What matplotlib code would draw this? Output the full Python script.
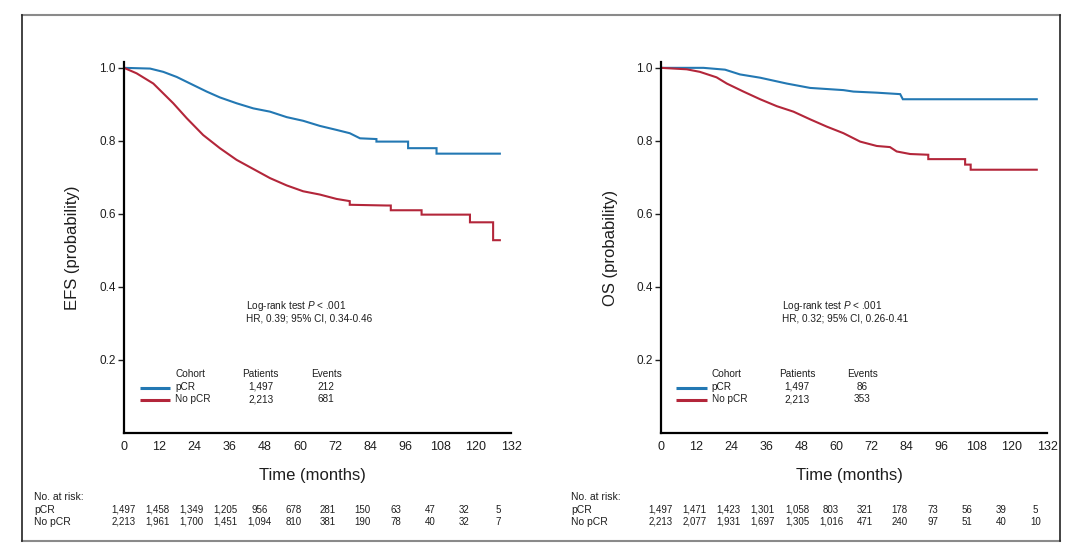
import matplotlib

matplotlib.use("Agg")
import matplotlib.pyplot as plt
from matplotlib.lines import Line2D

plt.rcParams["font.family"] = ["Liberation Sans", "DejaVu Sans"]
plt.rcParams["mathtext.fontset"] = "custom"
plt.rcParams["mathtext.rm"] = "Liberation Sans"
plt.rcParams["mathtext.it"] = "Liberation Sans:italic"

# ---------------------------------------------------------------------------
# Data (months, survival probability)
# ---------------------------------------------------------------------------
EFS_PCR_T = [0, 8.9, 13.4, 18, 23.6, 28.2, 32.7, 38.4, 44.1, 49.8, 55.5, 61.1, 66.8,
             72.5, 77, 80.5, 86.1, 86.1, 96.9, 96.9, 106.6, 106.6, 128.2]
EFS_PCR_S = [1.0, 0.998, 0.989, 0.975, 0.953, 0.935, 0.919, 0.903, 0.889, 0.88, 0.865,
             0.855, 0.841, 0.83, 0.821, 0.807, 0.805, 0.798, 0.798, 0.78, 0.78, 0.765, 0.765]

EFS_NOPCR_T = [0, 4.3, 10, 13.4, 16.8, 21.4, 27, 32.7, 38.4, 44.1, 49.8, 55.5, 61.1,
               66.8, 72.5, 77, 77, 89.5, 91, 91, 101.5, 101.5, 118, 118, 125.9, 125.9, 128.2]
EFS_NOPCR_S = [1.0, 0.985, 0.957, 0.93, 0.903, 0.862, 0.816, 0.78, 0.748, 0.723, 0.698,
               0.678, 0.662, 0.653, 0.641, 0.635, 0.625, 0.623, 0.623, 0.61, 0.61, 0.598,
               0.598, 0.577, 0.577, 0.528, 0.528]

OS_PCR_T = [0, 14.5, 21.9, 27, 33.9, 43, 51, 62.4, 65.8, 73.8, 81.8, 82.7, 128.5]
OS_PCR_S = [1.0, 1.0, 0.995, 0.982, 0.973, 0.957, 0.945, 0.939, 0.935, 0.932, 0.928,
            0.914, 0.914]

OS_NOPCR_T = [0, 8.8, 13.3, 19, 22.5, 28.2, 33.9, 39.6, 45.3, 51, 56.7, 62.4, 68.1,
              73.8, 78.3, 80.6, 85.2, 91.4, 91.4, 104, 104, 105.9, 105.9, 128.5]
OS_NOPCR_S = [1.0, 0.996, 0.989, 0.974, 0.957, 0.935, 0.914, 0.895, 0.88, 0.859, 0.839,
              0.821, 0.798, 0.786, 0.783, 0.771, 0.764, 0.762, 0.75, 0.75, 0.735, 0.735,
              0.721, 0.721]

TIME_TICKS = list(range(0, 133, 12))
PROB_TICKS = [0.2, 0.4, 0.6, 0.8, 1.0]

COHORTS = ["pCR", "No pCR"]
PATIENTS = ["1,497", "2,213"]
EFS_EVENTS = ["212", "681"]
OS_EVENTS = ["86", "353"]

EFS_RISK_PCR = ["1,497", "1,458", "1,349", "1,205", "956", "678", "281", "150", "63", "47", "32", "5"]
EFS_RISK_NOPCR = ["2,213", "1,961", "1,700", "1,451", "1,094", "810", "381", "190", "78", "40", "32", "7"]
OS_RISK_PCR = ["1,497", "1,471", "1,423", "1,301", "1,058", "803", "321", "178", "73", "56", "39", "5"]
OS_RISK_NOPCR = ["2,213", "2,077", "1,931", "1,697", "1,305", "1,016", "471", "240", "97", "51", "40", "10"]

BLUE = "#2378b3"
RED = "#b3263a"
INK = "#1e1e1e"
W, H = 1080, 558


def _panel(fig, left_px, width_px, ylabel, curves, events, hr_text, risk_rows):
    ax = fig.add_axes([left_px / W, (H - 433) / H, width_px / W, 371 / H])
    (t1, s1), (t2, s2) = curves
    ax.plot(t1, s1, color=BLUE, lw=1.5, solid_joinstyle="miter")
    ax.plot(t2, s2, color=RED, lw=1.5, solid_joinstyle="miter")

    ax.set_xlim(0, 132)
    ax.set_ylim(0, 1.016)
    ax.set_xticks(TIME_TICKS)
    ax.set_yticks(PROB_TICKS)
    ax.set_yticklabels([f"{v:.1f}" for v in PROB_TICKS])
    ax.tick_params(axis="x", length=0, pad=6, labelsize=9, colors=INK)
    ax.tick_params(axis="y", length=4, width=1, pad=2, labelsize=8.5, colors=INK)
    for side in ("top", "right"):
        ax.spines[side].set_visible(False)
    for side in ("left", "bottom"):
        ax.spines[side].set_linewidth(1.6)
        ax.spines[side].set_color("black")

    ax.set_ylabel(ylabel, fontsize=12, color=INK, va="center")
    ax.yaxis.set_label_coords(-0.132, 0.5)
    ax.set_xlabel("Time (months)", fontsize=12, color=INK, va="center")
    ax.xaxis.set_label_coords(0.487, -0.115)

    # log-rank annotation
    ax.text(41.5, 0.349, r"Log-rank test $\mathit{P}$ < .001", fontsize=7.2,
            color=INK, va="center")
    ax.text(41.5, 0.314, hr_text, fontsize=7.2, color=INK, va="center")

    # legend table
    ax.text(17.4, 0.161, "Cohort", fontsize=7.2, color=INK, va="center")
    ax.text(46.6, 0.161, "Patients", fontsize=7.2, color=INK, va="center", ha="center")
    ax.text(68.9, 0.161, "Events", fontsize=7.2, color=INK, va="center", ha="center")
    rows_y = [0.127, 0.093]
    for name, pts, ev, col, y in zip(COHORTS, PATIENTS, events, [BLUE, RED], rows_y):
        ax.plot([5.3, 15.6], [y - 0.003, y - 0.003], color=col, lw=2.2,
                solid_capstyle="butt")
        ax.text(17.4, y, name, fontsize=7.2, color=INK, va="center")
        ax.text(46.6, y, pts, fontsize=7.2, color=INK, va="center", ha="center")
        ax.text(68.9, y, ev, fontsize=7.2, color=INK, va="center", ha="center")

    # number at risk table (figure pixel positions)
    x0 = left_px - 0.5
    fig.text((left_px - 90) / W, (H - 497) / H, "No. at risk:", fontsize=7.5,
             color=INK, va="center")
    for label, vals, y in zip(COHORTS, risk_rows, [510, 522]):
        fig.text((left_px - 90) / W, (H - y) / H, label, fontsize=7.5, color=INK,
                 va="center")
        for i, v in enumerate(vals):
            fig.text((x0 + 34.1 * i) / W, (H - y) / H, v, fontsize=7, color=INK,
                     va="center", ha="center")
    return ax


fig = plt.figure(figsize=(W / 100, H / 100), dpi=100)

_panel(fig, 124, 387, "EFS (probability)",
       [(EFS_PCR_T, EFS_PCR_S), (EFS_NOPCR_T, EFS_NOPCR_S)], EFS_EVENTS,
       "HR, 0.39; 95% CI, 0.34-0.46", [EFS_RISK_PCR, EFS_RISK_NOPCR])
_panel(fig, 661, 386, "OS (probability)",
       [(OS_PCR_T, OS_PCR_S), (OS_NOPCR_T, OS_NOPCR_S)], OS_EVENTS,
       "HR, 0.32; 95% CI, 0.26-0.41", [OS_RISK_PCR, OS_RISK_NOPCR])

# outer frame
xl, xr, yt, yb = 21.5 / W, 1060 / W, 1 - 15 / H, 1 - 541 / H
fig.add_artist(Line2D([xl, xr], [yt, yt], color="#8a8a8a", lw=1.5))
fig.add_artist(Line2D([xl, xr], [yb, yb], color="#8a8a8a", lw=1.5))
fig.add_artist(Line2D([xl, xl], [yb, yt], color="#222222", lw=1.2))
fig.add_artist(Line2D([xr, xr], [yb, yt], color="#222222", lw=1.2))

fig.savefig("out.png", dpi=100)
